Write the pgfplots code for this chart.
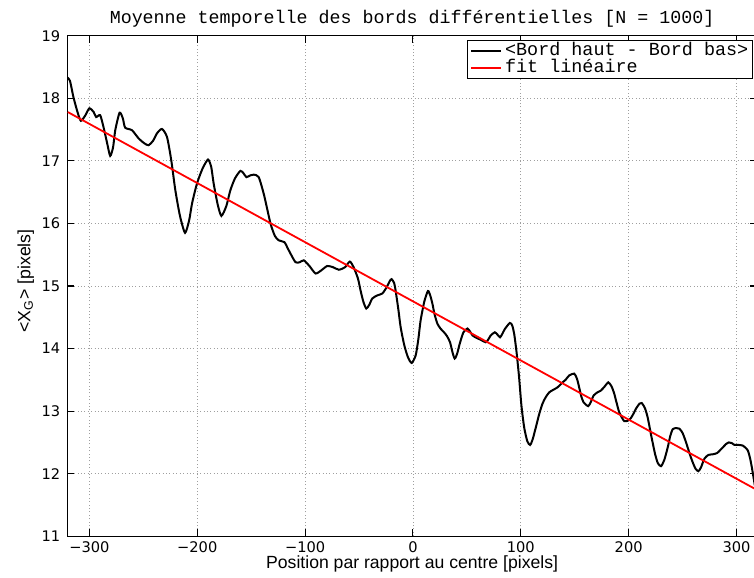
\documentclass[border=0pt]{standalone}
\usepackage{pgfplots}
\pgfplotsset{compat=1.18}
\usepackage{fontspec}
\setmainfont{Liberation Sans}
\newfontfamily\dejavu{DejaVu Sans}
\newfontfamily\mono{Liberation Mono}
\begin{document}
\begin{tikzpicture}
\path[use as bounding box] (-33.65pt,-20.65pt) rectangle (342.95pt,267.85pt);
\begin{axis}[
  scale only axis, width=344.35pt, height=250pt,
  xmin=-320.4, xmax=318.8, ymin=11, ymax=19,
  xtick={-300,-200,-100,0,100,200,300},
  xticklabels={−300,−200,−100,0,100,200,300},
  ytick={11,12,13,14,15,16,17,18,19},
  yticklabels={11,12,13,14,15,16,17,18,19},
  grid=major,
  major grid style={gray!75, line width=0.4pt, dash pattern=on 0.5pt off 1.2pt},
  tick align=inside, major tick length=3.4pt,
  tick style={black, line width=0.5pt},
  axis line style={line width=0.5pt},
  /pgf/number format/assume math mode=true,
  ticklabel style={font=\dejavu\fontsize{7.3}{9}\selectfont},
  xticklabel style={yshift=-0.4pt, inner sep=2pt},
  title={Moyenne temporelle des bords différentielles [N = 1000]},
  every axis title/.style={font=\mono\fontsize{9.15}{11}\selectfont, at={(axis description cs:0.5,1)}, anchor=base, yshift=6.2pt},
  xlabel={Position par rapport au centre [pixels]},
  xlabel style={font=\fontsize{8.8}{10}\selectfont, at={(axis description cs:0.5,0)}, anchor=base, yshift=-16.3pt, inner sep=1pt},
  ylabel={<X\textsubscript{G}> [pixels]},
  ylabel style={font=\fontsize{8.85}{10}\selectfont, at={(axis description cs:-0.0603,0.51)}, anchor=center},
  legend cell align=left,
  legend style={at={(1,1)}, anchor=north east, xshift=-2pt, yshift=-2.15pt,
    draw=black, line width=0.5pt, fill=white, inner xsep=1.5pt, inner ysep=1pt,
    font=\mono\fontsize{9.2}{10}\selectfont,
    nodes={inner sep=0.5pt, text height=0.62em, text depth=0.12em},
    row sep=0pt, column sep=1pt},
  legend image code/.code={\draw[#1] (0pt,0pt) -- (15pt,0pt);},
]
\addplot[black, line width=1pt, smooth, tension=0.4] coordinates {
(-320.3,18.33) (-318,18.28) (-314.8,18.02) (-311,17.78) (-307.9,17.64) (-304,17.72)
(-300,17.84) (-296,17.78) (-293.7,17.70) (-290,17.73) (-286.9,17.54) (-283.5,17.28)
(-280.7,17.08) (-278,17.22) (-276,17.49) (-272,17.77) (-269,17.68) (-266.8,17.53)
(-260.5,17.49) (-254.4,17.36) (-249,17.28) (-245.1,17.25) (-241,17.32) (-237.3,17.44)
(-232.7,17.51) (-228,17.38) (-224,17.0) (-220.3,16.53) (-216,16.12) (-211.3,15.85)
(-207.5,16.05) (-204.8,16.32) (-200.2,16.64) (-195,16.88) (-190,17.02) (-187,16.9)
(-184.8,16.64) (-181,16.3) (-177.6,16.12) (-173,16.28) (-169.3,16.53) (-165,16.72)
(-160,16.84) (-157,16.8) (-154.4,16.74) (-150.5,16.77) (-147.6,16.78) (-143,16.74)
(-138,16.45) (-132.1,16.0) (-128,15.8) (-124.4,15.73) (-119.1,15.70) (-116.6,15.62)
(-113.6,15.52) (-108.9,15.38) (-105,15.38) (-101.2,15.41) (-96,15.32) (-90.3,15.2)
(-85,15.25) (-79.5,15.32) (-74,15.3) (-68.7,15.26) (-63,15.3) (-58.5,15.39)
(-55,15.3) (-51,15.12) (-48.6,14.93) (-46,14.75) (-43.3,14.64) (-40.5,14.7)
(-37.7,14.80) (-33.1,14.85) (-28.4,14.88) (-24.4,14.98) (-21.5,15.08) (-19.8,15.11)
(-17.5,15.05) (-16.1,14.93) (-13.5,14.62) (-11.4,14.34) (-8,14.05) (-4.6,13.86)
(-1.2,13.77) (2.5,13.89) (5,14.15) (7.1,14.45) (10.5,14.75) (13.9,14.92)
(16,14.85) (18,14.72) (20,14.55) (22.6,14.40) (25.5,14.32) (28.8,14.26)
(31.5,14.2) (34.4,14.10) (36.5,13.95) (38.7,13.84) (41,13.92) (43.4,14.08)
(46.8,14.26) (50.5,14.32) (53,14.27) (55.2,14.21) (59,14.17) (62.9,14.14)
(67.5,14.10) (70,14.15) (72.1,14.21) (75.9,14.26) (78.5,14.22) (80.8,14.18)
(83,14.24) (85.1,14.31) (89.8,14.41) (92,14.37) (93.8,14.24) (96,13.95)
(98.4,13.54) (100.5,13.1) (103.1,12.74) (106,12.52) (108.6,12.46) (111,12.55)
(113.9,12.74) (117,12.95) (120.1,13.12) (123,13.22) (126.3,13.30) (130,13.34)
(134,13.38) (138.7,13.46) (141.5,13.5) (144.8,13.57) (149.5,13.60) (152,13.52)
(154.1,13.38) (156,13.24) (158.2,13.14) (162.5,13.08) (165,13.15) (167.5,13.25)
(171,13.3) (174.3,13.33) (178,13.4) (181.1,13.46) (184,13.4) (186.6,13.28)
(189,13.12) (191.3,12.98) (195.9,12.84) (200.6,12.86) (203.5,12.93) (206.8,13.04)
(210,13.12) (212.1,13.13) (215,13.05) (217.6,12.90) (221,12.6) (224.4,12.32)
(227,12.17) (230,12.12) (233,12.22) (236.2,12.42) (238.5,12.6) (240.8,12.71)
(244,12.73) (247,12.72) (250,12.65) (253.2,12.50) (256.5,12.32) (259.4,12.18)
(262,12.08) (264.6,12.04) (267,12.1) (270.2,12.24) (273.9,12.30) (278,12.31)
(282,12.33) (285,12.38) (287.3,12.42) (290,12.47) (292.8,12.50) (295.5,12.49)
(298.1,12.46) (302,12.46) (305.8,12.45) (308,12.42) (310.5,12.37) (312.5,12.25)
(314.2,12.10) (317.3,11.78) (319.5,11.6)
};
\addlegendentry{<Bord haut - Bord bas>}
\addplot[red, line width=0.9pt] coordinates {(-320,17.78) (320,11.73)};
\addlegendentry{fit linéaire}
\end{axis}
\end{tikzpicture}
\end{document}
